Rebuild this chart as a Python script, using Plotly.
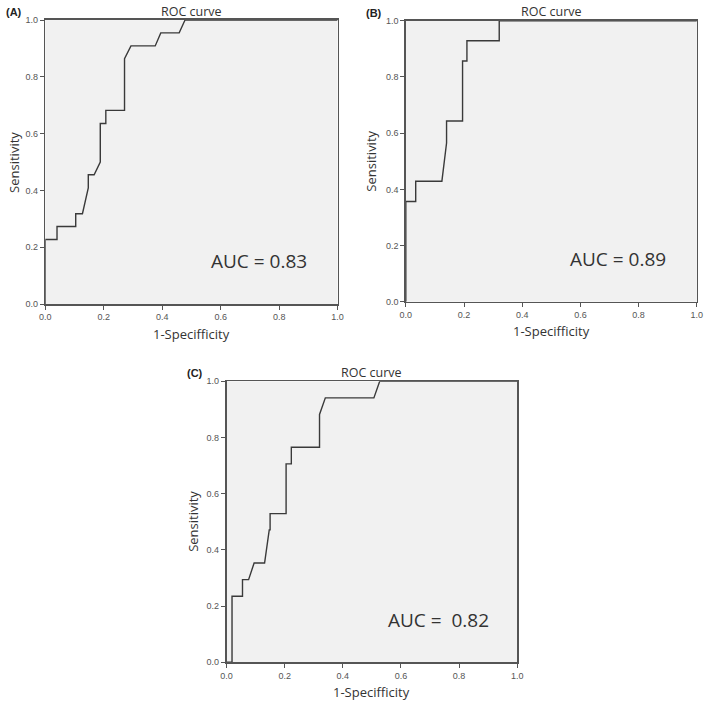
import plotly.graph_objects as go

# ---- data ----
fpr_a = [0, 0, 0.040, 0.040, 0.104, 0.104, 0.127, 0.147, 0.147, 0.167, 0.188, 0.188, 0.207, 0.207,
         0.271, 0.271, 0.293, 0.376, 0.395, 0.458, 0.478, 1.0]
tpr_a = [0, 0.227, 0.227, 0.273, 0.273, 0.318, 0.318, 0.409, 0.455, 0.455, 0.5, 0.636, 0.636, 0.682,
         0.682, 0.864, 0.909, 0.909, 0.955, 0.955, 1.0, 1.0]

fpr_b = [0, 0, 0.034, 0.034, 0.124, 0.140, 0.140, 0.195, 0.195, 0.210, 0.210, 0.321, 0.321, 1.0]
tpr_b = [0, 0.357, 0.357, 0.429, 0.429, 0.565, 0.643, 0.643, 0.857, 0.857, 0.929, 0.929, 1.0, 1.0]

fpr_c = [0, 0.019, 0.019, 0.055, 0.055, 0.076, 0.095, 0.131, 0.147, 0.150, 0.150, 0.205, 0.205,
         0.223, 0.223, 0.320, 0.320, 0.340, 0.507, 0.527, 1.0]
tpr_c = [0, 0, 0.235, 0.235, 0.294, 0.294, 0.353, 0.353, 0.471, 0.471, 0.529, 0.529, 0.706,
         0.706, 0.765, 0.765, 0.882, 0.941, 0.941, 1.0, 1.0]

panel_labels = ["(A)", "(B)", "(C)"]
auc_labels = ["AUC = 0.83", "AUC = 0.89", "AUC =  0.82"]
tick_vals = [0.0, 0.2, 0.4, 0.6, 0.8, 1.0]
tick_text = ["0.0", "0.2", "0.4", "0.6", "0.8", "1.0"]

W, H = 709, 706
# plot areas in pixels: (left, right, top, bottom)
boxes = [(40, 337.3, 15.3, 303.3), (406.7, 702.7, 16, 301), (224.3, 520, 381.7, 666.7)]
ytitle_off = [32, 35, 34]

fig = go.Figure()
series = [(fpr_a, tpr_a), (fpr_b, tpr_b), (fpr_c, tpr_c)]
layout = {}
annotations = []
for i, ((fx, ty), (l, r, t, b)) in enumerate(zip(series, boxes)):
    sfx = "" if i == 0 else str(i + 1)
    fig.add_trace(go.Scatter(x=fx, y=ty, mode="lines", xaxis="x" + sfx, yaxis="y" + sfx,
                             line=dict(color="#3a3a3a", width=1.4), showlegend=False,
                             hoverinfo="skip"))
    axcommon = dict(range=[0, 1], tickvals=tick_vals, ticktext=tick_text, showgrid=False,
                    zeroline=False, showline=True, linecolor="#555555", linewidth=1.6,
                    mirror=True, ticks="outside", ticklen=4, tickwidth=1, tickcolor="#555555",
                    tickfont=dict(family="Liberation Sans, Arial", size=9, color="#555555"),
                    fixedrange=True)
    layout["xaxis" + sfx] = dict(axcommon, domain=[l / W, r / W], anchor="y" + sfx)
    layout["yaxis" + sfx] = dict(axcommon, domain=[1 - b / H, 1 - t / H], anchor="x" + sfx)
    cx = (l + r) / 2
    # title
    annotations.append(dict(text="ROC curve", x=cx / W, y=1 - (t - 9) / H, xref="paper", yref="paper",
                            showarrow=False, font=dict(family="Open Sans", size=12.5, color="#333333"),
                            xanchor="center", yanchor="middle"))
    # panel label
    annotations.append(dict(text="<b>" + panel_labels[i] + "</b>", x=(l - 32) / W, y=1 - (t - 8) / H,
                            xref="paper", yref="paper", showarrow=False,
                            font=dict(family="Liberation Sans, Arial", size=11, color="#222222"),
                            xanchor="center", yanchor="middle"))
    # y title
    annotations.append(dict(text="Sensitivity", x=(l - ytitle_off[i]) / W, y=1 - ((t + b) / 2) / H,
                            xref="paper", yref="paper", showarrow=False, textangle=-90,
                            font=dict(family="Open Sans", size=13, color="#333333"),
                            xanchor="center", yanchor="middle"))
    # x title
    annotations.append(dict(text="1-Specifficity", x=cx / W, y=1 - (b + 30) / H,
                            xref="paper", yref="paper", showarrow=False,
                            font=dict(family="Open Sans", size=13, color="#333333"),
                            xanchor="center", yanchor="middle"))
    # AUC text
    annotations.append(dict(text=auc_labels[i], x=0.73, y=0.152, xref="x" + sfx, yref="y" + sfx,
                            showarrow=False, font=dict(family="Open Sans", size=19, color="#333333"),
                            xanchor="center", yanchor="middle"))

fig.update_layout(width=W, height=H, margin=dict(l=0, r=0, t=0, b=0),
                  paper_bgcolor="white", plot_bgcolor="#f1f1f1",
                  annotations=annotations, **layout)
fig.write_html("out.html", config={"displayModeBar": False, "staticPlot": True},
               post_script="document.body.style.margin='0px';document.body.style.overflow='hidden';")
